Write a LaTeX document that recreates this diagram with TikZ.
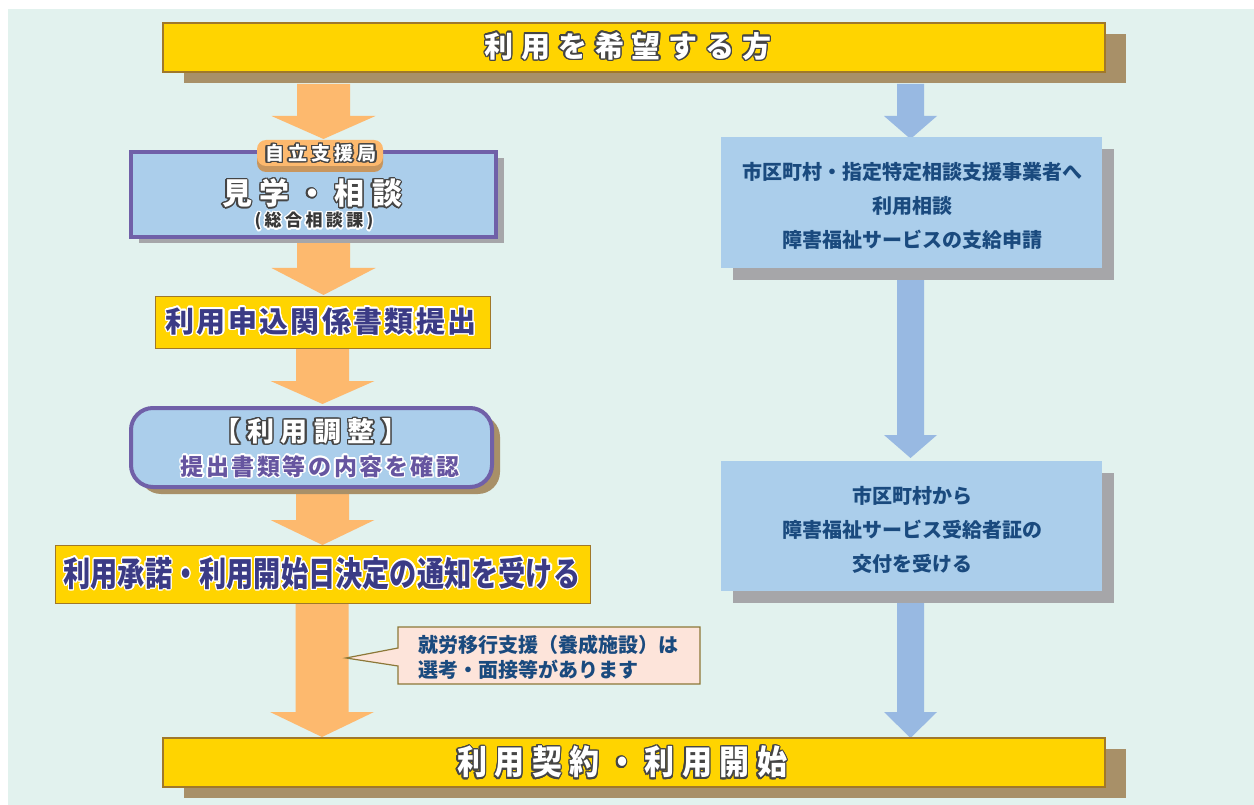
\documentclass[tikz,border=0pt]{standalone}
\usepackage{fontspec}
\setmainfont{Noto Sans CJK JP}
\usepackage[copies]{contour}
\contourlength{1.4pt}
\contournumber{16}
\usetikzlibrary{shadows}
\definecolor{bgc}{HTML}{E2F2EE}
\definecolor{gold}{HTML}{FFD400}
\definecolor{barborder}{HTML}{A0782A}
\definecolor{brownshadow}{HTML}{A89068}
\definecolor{orangearr}{HTML}{FDB96E}
\definecolor{bluearr}{HTML}{98B9E2}
\definecolor{lblue}{HTML}{ABCEEB}
\definecolor{purp}{HTML}{7060A8}
\definecolor{grayshadow}{HTML}{A6A6A9}
\definecolor{navytext}{HTML}{3B3B85}
\definecolor{bluetext}{HTML}{1A4A7E}
\definecolor{purptext}{HTML}{6655A0}
\definecolor{notefill}{HTML}{FDE4DA}
\definecolor{noteborder}{HTML}{8C7838}
\definecolor{outl}{HTML}{454545}
\definecolor{tagshadow}{HTML}{C8965E}
\newcommand\fatarr[7]{%
  \fill[#1] (#2-#6,#3) -- (#2+#6,#3) -- (#2+#6,#4) -- (#2+#7,#4) -- (#2,#5) -- (#2-#7,#4) -- (#2-#6,#4) -- cycle;}
\newcommand\wout[1]{{\color{white}\contour{outl}{#1}}}
\newcommand\darkw[2]{{\color{#1}\contour{white}{#2}}}
\tikzset{
  ybar/.style={draw=barborder, line width=1.2pt, fill=gold, inner sep=0pt,
    general shadow={fill=brownshadow, shadow xshift=21pt, shadow yshift=-11pt}},
  ybox/.style={draw=barborder, line width=0.8pt, fill=gold, inner sep=0pt},
  pbox/.style={draw=purp, line width=4pt, fill=lblue, inner sep=0pt},
  bbox/.style={fill=lblue, inner sep=0pt,
    general shadow={fill=grayshadow, shadow xshift=12pt, shadow yshift=-12pt}},
  lbl/.style={inner sep=0pt, font=\bfseries},
  rtext/.style={inner sep=0pt, align=center, text=bluetext, font=\fontsize{20}{34}\selectfont\bfseries},
  notebox/.style={fill=notefill, draw=noteborder, line width=1.2pt, line join=miter},
}
\begin{document}
\begin{tikzpicture}[x=1pt, y=-1pt]
\useasboundingbox (0,0) rectangle (1254,805);
\fill[bgc] (8,9) rectangle (1254,805);

% arrows left
\fatarr{orangearr}{323.5}{84}{116}{139}{26.5}{52}
\fatarr{orangearr}{323.5}{242}{268}{295}{26.5}{52}
\fatarr{orangearr}{322.5}{348}{381}{404}{26.5}{52}
\fatarr{orangearr}{322.5}{494}{520}{545}{26.5}{52}
\fatarr{orangearr}{322}{603}{712}{737}{26.5}{52}
% arrows right
\fatarr{bluearr}{910.5}{84}{116}{139}{13.5}{26.5}
\fatarr{bluearr}{910.5}{280}{435}{458}{13.5}{26.5}
\fatarr{bluearr}{910.5}{603}{712}{738}{13.5}{26.5}

% top bar
\node[ybar, minimum width=942pt, minimum height=49pt] (top) at (634,47.5) {};
\node[lbl] (toptext) at (628,47) {\fontsize{29}{34}\selectfont\addfontfeature{LetterSpace=27}\wout{利用を希望する方}};

% kengaku box
\node[pbox, minimum width=365pt, minimum height=85pt,
  general shadow={fill=grayshadow, shadow xshift=8pt, shadow yshift=-6pt}] (kengaku) at (313.5,194.5) {};
\node[lbl] (kengakuT) at (312,194) {\fontsize{30}{34}\selectfont\addfontfeature{LetterSpace=25}\wout{見学・相談}};
\node[lbl] (kengakuS) at (314,222) {\fontsize{17}{20}\selectfont\addfontfeature{LetterSpace=20}\darkw{outl!80!black}{(総合相談課)}};
\node[fill=orangearr, rounded corners=9pt, minimum width=126pt, minimum height=26pt, inner sep=0pt,
  general shadow={fill=tagshadow, shadow xshift=0pt, shadow yshift=-6pt}] (tag) at (320,153) {};
\node[lbl] (tagT) at (321,154) {\fontsize{19}{22}\selectfont\addfontfeature{LetterSpace=22}\wout{自立支援局}};

% moushikomi
\node[ybox, minimum width=335pt, minimum height=52pt] (moushi) at (322.5,322) {};
\node[lbl] (moushiT) at (321,322) {\fontsize{29}{34}\selectfont\addfontfeature{LetterSpace=8}\darkw{navytext}{利用申込関係書類提出}};

% chousei
\node[pbox, rounded corners=22pt, minimum width=361pt, minimum height=79pt,
  general shadow={fill=brownshadow, shadow xshift=8pt, shadow yshift=-7pt}] (chousei) at (311.5,447.5) {};
\node[lbl] (chouseiT) at (311,432) {\fontsize{27}{30}\selectfont\addfontfeature{LetterSpace=24}\wout{【利用調整】}};
\node[lbl] (chouseiS) at (320,467) {\fontsize{23}{27}\selectfont\addfontfeature{LetterSpace=11}\darkw{purptext}{提出書類等の内容を確認}};

% shoudaku
\node[ybox, minimum width=535pt, minimum height=58pt] (shou) at (322.5,574) {};
\node[lbl] (shouT) at (322,574) {\scalebox{0.8}[1]{\fontsize{34}{38}\selectfont\darkw{navytext}{利用承諾・利用開始日決定の通知を受ける}}};

% note callout
\path[notebox] (398,627) -- (700,627) -- (700,684) -- (398,684) -- (398,666) -- (346,658) -- (398,648) -- cycle;
\node[inner sep=0pt, anchor=west, align=left, text=bluetext, font=\fontsize{20}{25}\selectfont\bfseries] (note) at (418,657.5) {就労移行支援（養成施設）は\\選考・面接等があります};

% right boxes
\node[bbox, minimum width=381pt, minimum height=131pt] (r1) at (911.5,202.5) {};
\node[rtext] (r1T) at (912,206) {市区町村・指定特定相談支援事業者へ\\利用相談\\障害福祉サービスの支給申請};
\node[bbox, minimum width=381pt, minimum height=130pt] (r2) at (911.5,526) {};
\node[rtext] (r2T) at (912,530) {市区町村から\\障害福祉サービス受給者証の\\交付を受ける};

% bottom bar
\node[ybar, minimum width=942pt, minimum height=49pt] (bottom) at (634,762.5) {};
\node[lbl] (bottomT) at (622,763) {\scalebox{1}[1.12]{\fontsize{30}{34}\selectfont\addfontfeature{LetterSpace=25}\wout{利用契約・利用開始}}};
\end{tikzpicture}
\end{document}
